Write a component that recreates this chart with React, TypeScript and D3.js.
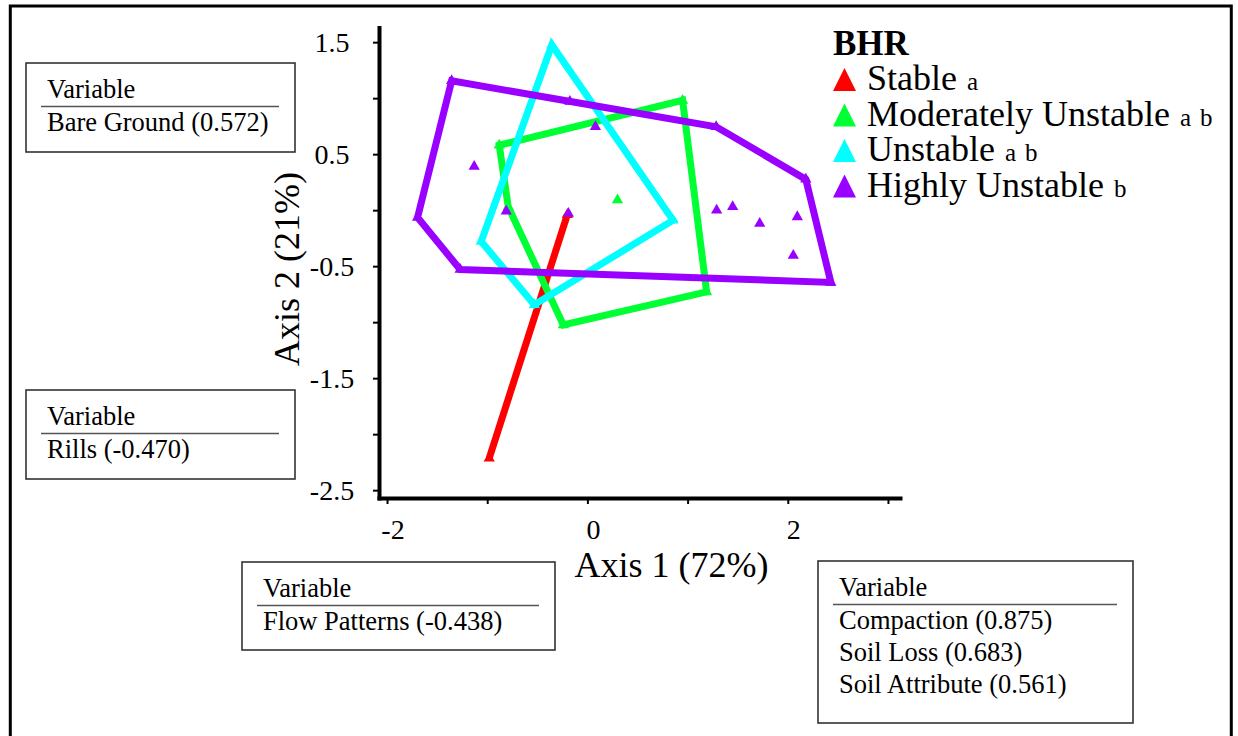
import * as React from 'react';
import * as d3 from 'd3';

import type { RefObject } from 'react';

// ordination scores per BHR class (axis 1, axis 2)
const stableScores: [number, number][] = [
  [-0.2, -0.04],
  [-0.98, -2.215],
];
const moderatelyScores: [number, number][] = [
  [-0.88, 0.58],
  [0.95, 0.98],
  [1.19, -0.73],
  [-0.24, -1.025],
  [-0.79, 0.03],
  [0.3, 0.09],
];
const unstableScores: [number, number][] = [
  [-0.355, 1.475],
  [0.855, -0.09],
  [-0.53, -0.845],
  [-1.06, -0.28],
];
const highlyScores: [number, number][] = [
  [-1.355, 1.155],
  [1.285, 0.745],
  [2.18, 0.275],
  [2.43, -0.645],
  [-1.27, -0.53],
  [-1.695, -0.065],
  [-0.175, 0.97],
  [0.08, 0.745],
  [-1.13, 0.39],
  [-0.81, -0.01],
  [-0.19, -0.03],
  [1.29, 0.0],
  [1.45, 0.03],
  [1.72, -0.12],
  [2.095, -0.06],
  [2.055, -0.405],
];

const groupNames = ['Stable', 'Moderately Unstable', 'Unstable', 'Highly Unstable'];
const groupLetters = [['a'], ['a', 'b'], ['a', 'b'], ['b']];
const groupColors = ['#ff0000', '#00ff33', '#00ffff', '#9900ff'];
const groupScores = [stableScores, moderatelyScores, unstableScores, highlyScores];

const xTicks = [-2, -1, 0, 1, 2, 3];
const xTickLabels = [-2, 0, 2];
const yTicks = [-2.5, -2, -1.5, -1, -0.5, 0, 0.5, 1, 1.5];
const yTickLabels = [-2.5, -1.5, -0.5, 0.5, 1.5];

const bareGroundVars = ['Bare Ground (0.572)'];
const rillsVars = ['Rills (-0.470)'];
const flowVars = ['Flow Patterns (-0.438)'];
const soilVars = ['Compaction (0.875)', 'Soil Loss (0.683)', 'Soil Attribute (0.561)'];

const serif = "'Liberation Serif', 'Times New Roman', serif";

const Chart = () => {
  const ref: RefObject<SVGSVGElement | null> = React.useRef(null);

  const width = 1238;
  const height = 736;

  React.useEffect(() => {
    draw();
  });

  const draw = () => {
    const svg = d3.select(ref.current);
    svg.selectAll('*').remove();

    const x = d3.scaleLinear().domain([-2.08, 3.12]).range([379, 900]);
    const y = d3.scaleLinear().domain([-2.57, 1.63]).range([498, 27.6]);

    // outer frame
    svg
      .append('rect')
      .attr('x', 10.3)
      .attr('y', 6)
      .attr('width', 1221)
      .attr('height', 800)
      .attr('fill', 'none')
      .attr('stroke', '#000')
      .attr('stroke-width', 3);

    // axes
    const xAxis = svg
      .append('g')
      .attr('transform', `translate(0, ${y(-2.57)})`)
      .call(d3.axisBottom(x).tickValues(xTicks).tickSize(6).tickSizeOuter(0).tickFormat(() => ''));
    const yAxis = svg
      .append('g')
      .attr('transform', `translate(${x(-2.08)}, 0)`)
      .call(d3.axisLeft(y).tickValues(yTicks).tickSize(6).tickSizeOuter(0).tickFormat(() => ''));
    [xAxis, yAxis].forEach((g) => {
      g.select('.domain').attr('stroke', '#000').attr('stroke-width', 4).attr('stroke-linecap', 'square');
      g.selectAll('.tick line').attr('stroke', '#000').attr('stroke-width', 2);
    });

    svg
      .append('g')
      .selectAll('text')
      .data(xTickLabels)
      .join('text')
      .attr('x', (d) => x(d) + 6)
      .attr('y', 539)
      .attr('text-anchor', 'middle')
      .attr('font-family', serif)
      .attr('font-size', 28)
      .text((d) => String(d));

    svg
      .append('g')
      .selectAll('text')
      .data(yTickLabels)
      .join('text')
      .attr('x', 332)
      .attr('y', (d) => y(d) + 10)
      .attr('text-anchor', 'middle')
      .attr('font-family', serif)
      .attr('font-size', 28)
      .text((d) => d.toFixed(1));

    // axis titles
    svg
      .append('text')
      .attr('x', 671.5)
      .attr('y', 577)
      .attr('text-anchor', 'middle')
      .attr('font-family', serif)
      .attr('font-size', 36)
      .text('Axis 1 (72%)');
    svg
      .append('text')
      .attr('transform', 'translate(299, 269) rotate(-90)')
      .attr('text-anchor', 'middle')
      .attr('font-family', serif)
      .attr('font-size', 36)
      .text('Axis 2 (21%)');

    // hulls + points
    const line = d3.line();
    const closed = d3.line().curve(d3.curveLinearClosed);
    const marker = d3.symbol(d3.symbolTriangle, 55);
    groupScores.forEach((scores, i) => {
      const pts = scores.map((d) => [x(d[0]), y(d[1])] as [number, number]);
      const hull = d3.polygonHull(pts);
      svg
        .append('path')
        .attr('d', hull ? closed(hull) : line(pts))
        .attr('fill', 'none')
        .attr('stroke', groupColors[i])
        .attr('stroke-width', 7)
        .attr('stroke-linejoin', 'miter');
      svg
        .append('g')
        .selectAll('path')
        .data(pts)
        .join('path')
        .attr('transform', (d) => `translate(${d[0]}, ${d[1]})`)
        .attr('d', marker)
        .attr('fill', groupColors[i]);
    });

    // legend
    const lx = 833;
    const legend = svg.append('g');
    legend
      .append('text')
      .attr('x', lx)
      .attr('y', 55)
      .attr('font-family', serif)
      .attr('font-size', 35)
      .attr('font-weight', 'bold')
      .text('BHR');
    groupNames.forEach((name, i) => {
      const base = 90 + i * 35.5;
      legend
        .append('path')
        .attr('d', `M${lx + 11.5},${base - 22}L${lx + 23},${base + 1}L${lx},${base + 1}Z`)
        .attr('fill', groupColors[i]);
      const t = legend
        .append('text')
        .attr('x', lx + 34)
        .attr('y', base)
        .attr('font-family', serif)
        .attr('font-size', 36);
      t.append('tspan').text(name);
      groupLetters[i].forEach((l, j) => {
        t.append('tspan')
          .attr('dx', j === 0 ? 10 : 9)
          .attr('font-size', 25)
          .text(l);
      });
    });

    // variable boxes
    const box = (bx: number, by: number, bw: number, bh: number, rows: string[]) => {
      const g = svg.append('g');
      g.append('rect')
        .attr('x', bx)
        .attr('y', by)
        .attr('width', bw)
        .attr('height', bh)
        .attr('fill', '#fff')
        .attr('stroke', '#333')
        .attr('stroke-width', 1.6);
      g.append('text')
        .attr('x', bx + 21)
        .attr('y', by + 35)
        .attr('font-family', serif)
        .attr('font-size', 26.5)
        .text('Variable');
      g.append('line')
        .attr('x1', bx + 15)
        .attr('x2', bx + bw - 16)
        .attr('y1', by + 43.5)
        .attr('y2', by + 43.5)
        .attr('stroke', '#555')
        .attr('stroke-width', 1.6);
      g.selectAll('text.row')
        .data(rows)
        .join('text')
        .attr('class', 'row')
        .attr('x', bx + 21)
        .attr('y', (_, k) => by + 68 + k * 32)
        .attr('font-family', serif)
        .attr('font-size', 26.5)
        .text((d) => d);
    };
    box(26, 63, 269, 89, bareGroundVars);
    box(26, 390, 269, 89, rillsVars);
    box(242, 562, 313, 88, flowVars);
    box(818, 561, 315, 162, soilVars);
  };

  return (
    <svg
      ref={ref}
      width={width}
      height={height}
      style={{ position: 'absolute', left: 0, top: 0, background: '#fff' }}
    />
  );
};

export default function App() {
  return <Chart />;
}
